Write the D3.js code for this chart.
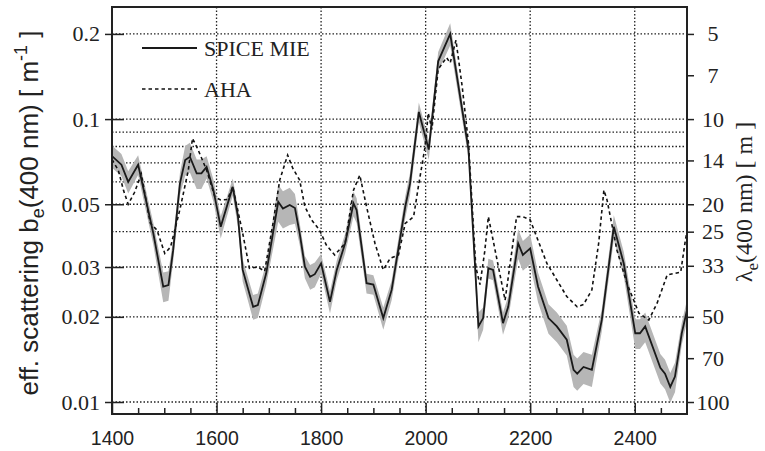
<!DOCTYPE html>
<html>
<head>
<meta charset="utf-8">
<script src="https://cdn.jsdelivr.net/npm/d3@7"></script>
<style>
  body { margin: 0; background: #fff; }
  svg { display: block; }
</style>
</head>
<body>
<svg id="chart"></svg>
<script>
// SPICE MIE effective scattering (solid, with grey uncertainty band)
const spiceX = [1400,1418,1431,1450,1479,1498,1508,1517,1530,1540,1549,1562,1571,1581,1594,1608,1631,1641,1650,1670,
  1679,1695,1718,1727,1740,1750,1759,1769,1779,1788,1800,1817,1830,1846,1862,1868,1887,1900,1919,1935,
  1961,1970,1987,2006,2024,2047,2082,2101,2110,2120,2129,2148,2158,2177,2186,2200,2215,2235,2251,2270,
  2283,2290,2302,2318,2337,2360,2379,2401,2410,2420,2449,2458,2468,2477,2490,2500]
const spiceB = [0.074,0.069,0.060,0.069,0.0395,0.0256,0.0259,0.0344,0.0593,0.0717,0.0736,0.0643,0.0643,0.0678,0.0561,0.0416,0.0576,0.0452,0.0293,0.0217,
  0.0220,0.0285,0.0510,0.0483,0.0497,0.0485,0.0395,0.0301,0.0277,0.0283,0.0309,0.0226,0.0293,0.0364,0.0504,0.0477,0.0263,0.0260,0.0198,0.0249,
  0.0490,0.0590,0.106,0.078,0.160,0.200,0.078,0.0185,0.0198,0.0297,0.0293,0.0190,0.0217,0.0364,0.0331,0.0349,0.0256,0.0198,0.0185,0.0166,
  0.0130,0.0126,0.0133,0.0130,0.0195,0.0416,0.0309,0.0175,0.0175,0.0185,0.0132,0.0126,0.0113,0.0123,0.0175,0.0211]
// relative half-width of the grey band
const spiceErr = [0.09,0.09,0.09,0.08,0.09,0.12,0.12,0.09,0.09,0.12,0.12,0.12,0.12,0.09,0.09,0.09,0.07,0.08,0.09,0.10,
  0.10,0.09,0.15,0.15,0.15,0.12,0.09,0.09,0.10,0.10,0.08,0.09,0.08,0.08,0.10,0.10,0.08,0.08,0.09,0.08,
  0.09,0.09,0.08,0.08,0.08,0.09,0.07,0.12,0.09,0.08,0.08,0.09,0.09,0.12,0.12,0.12,0.12,0.12,0.12,0.12,
  0.13,0.13,0.13,0.13,0.09,0.10,0.10,0.12,0.12,0.12,0.12,0.12,0.12,0.12,0.09,0.09]

// AHA (dashed)
const ahaX = [1400,1412,1422,1431,1443,1456,1473,1486,1501,1512,1530,1546,1554,1565,1581,1597,1608,1621,1631,1650,
  1663,1679,1692,1708,1721,1736,1746,1759,1769,1782,1797,1810,1826,1846,1862,1874,1887,1903,1919,1932,
  1948,1961,1977,1986,1999,2005,2012,2024,2040,2047,2058,2070,2082,2096,2104,2113,2120,2127,2152,2174,
  2186,2200,2232,2251,2270,2290,2302,2318,2331,2341,2347,2366,2385,2408,2427,2443,2462,2488,2497,2500]
const ahaB = [0.072,0.066,0.056,0.050,0.055,0.064,0.043,0.0405,0.0335,0.0353,0.048,0.066,0.0855,0.0777,0.066,0.053,0.0518,0.052,0.0576,0.0395,
  0.0297,0.030,0.029,0.0428,0.061,0.0746,0.0669,0.0609,0.049,0.044,0.0405,0.0359,0.0331,0.0364,0.0561,0.0634,0.049,0.0364,0.0293,0.0322,
  0.0331,0.0428,0.0452,0.0576,0.080,0.105,0.092,0.150,0.165,0.158,0.190,0.130,0.082,0.030,0.026,0.034,0.0452,0.039,0.0229,0.0452,
  0.0452,0.044,0.0309,0.027,0.0236,0.0217,0.0221,0.0249,0.0364,0.0561,0.0518,0.0344,0.0263,0.0206,0.0195,0.0224,0.0281,0.0288,0.0374,0.040]

const leftTicks = [0.2, 0.1, 0.05, 0.03, 0.02, 0.01]
const rightTicks = [5, 7, 10, 14, 20, 25, 33, 50, 70, 100]
const gridY = [0.2, 0.1, 0.09, 0.08, 0.07, 0.06, 0.05, 0.04, 0.03, 0.02, 0.01]
const xMajor = [1400, 1600, 1800, 2000, 2200, 2400]
const gridX = [1600, 1800, 2000, 2200, 2400]

const width = 765, height = 451
const plot = { left: 112, right: 687, top: 7, bottom: 414 }

const svg = d3.select('#chart')
  .attr('width', width)
  .attr('height', height)

const x = d3.scaleLinear().domain([1400, 2500]).range([plot.left, plot.right])
const y = d3.scaleLog().domain([0.00907, 0.249]).range([plot.bottom, plot.top])

const serif = '"Liberation Serif", "DejaVu Serif", serif'
const sans = '"Liberation Sans", Arial, sans-serif'

// grid
svg.append('g').selectAll('line').data(gridY).enter().append('line')
  .attr('x1', plot.left).attr('x2', plot.right)
  .attr('y1', d => y(d)).attr('y2', d => y(d))
  .attr('stroke', '#222').attr('stroke-width', 1.3).attr('stroke-dasharray', '1.5,2')
svg.append('g').selectAll('line').data(gridX).enter().append('line')
  .attr('x1', d => x(d)).attr('x2', d => x(d))
  .attr('y1', plot.top).attr('y2', plot.bottom)
  .attr('stroke', '#222').attr('stroke-width', 1.3).attr('stroke-dasharray', '1.5,2')

const spice = spiceX.map((v, i) => ({ x: v, b: spiceB[i], e: spiceErr[i] }))
const aha = ahaX.map((v, i) => ({ x: v, b: ahaB[i] }))

svg.append('clipPath').attr('id', 'clip').append('rect')
  .attr('x', plot.left).attr('y', plot.top)
  .attr('width', plot.right - plot.left).attr('height', plot.bottom - plot.top)

const g = svg.append('g').attr('clip-path', 'url(#clip)')

// uncertainty band
g.append('path')
  .datum(spice)
  .attr('fill', '#b6b6b6')
  .attr('d', d3.area()
    .x(d => x(d.x))
    .y0(d => y(d.b * (1 - d.e)))
    .y1(d => y(d.b * (1 + d.e))))

g.append('path')
  .datum(aha)
  .attr('fill', 'none')
  .attr('stroke', '#111')
  .attr('stroke-width', 1.6)
  .attr('stroke-dasharray', '3.5,3')
  .attr('d', d3.line().x(d => x(d.x)).y(d => y(d.b)))

g.append('path')
  .datum(spice)
  .attr('fill', 'none')
  .attr('stroke', '#1a1a1a')
  .attr('stroke-width', 1.8)
  .attr('d', d3.line().x(d => x(d.x)).y(d => y(d.b)))

// frame
svg.append('rect')
  .attr('x', plot.left).attr('y', plot.top)
  .attr('width', plot.right - plot.left).attr('height', plot.bottom - plot.top)
  .attr('fill', 'none').attr('stroke', '#222').attr('stroke-width', 2)

// left axis
svg.append('g')
  .attr('transform', 'translate(' + plot.left + ',0)')
  .call(d3.axisLeft(y).tickValues(leftTicks).tickFormat(d3.format('')).tickSize(7).tickPadding(5))
  .call(a => a.select('.domain').remove())
  .call(a => a.selectAll('line').attr('x2', -7).attr('x1', 12).attr('stroke', '#222').attr('stroke-width', 1.5))
  .call(a => a.selectAll('text').attr('font-family', serif).attr('font-size', 22).attr('fill', '#222').attr('x', -12))

// right axis (lambda = 1/b)
svg.append('g')
  .attr('transform', 'translate(' + plot.right + ',0)')
  .call(d3.axisRight(y).tickValues(rightTicks.map(l => 1 / l)).tickFormat(d => String(Math.round(1 / d))).tickSize(7))
  .call(a => a.select('.domain').remove())
  .call(a => a.selectAll('line').attr('stroke', '#222').attr('stroke-width', 1.5))
  .call(a => a.selectAll('text').attr('font-family', serif).attr('font-size', 22).attr('fill', '#222')
    .attr('x', 26).attr('text-anchor', 'middle'))

// bottom axis
svg.append('g')
  .attr('transform', 'translate(0,' + plot.bottom + ')')
  .call(d3.axisBottom(x).tickValues(d3.range(1450, 2500, 50).filter(v => v % 200 !== 0)).tickFormat('').tickSize(-6))
  .call(a => a.select('.domain').remove())
  .call(a => a.selectAll('line').attr('stroke', '#222').attr('stroke-width', 1.5))
svg.append('g')
  .attr('transform', 'translate(0,' + plot.bottom + ')')
  .call(d3.axisBottom(x).tickValues(xMajor).tickFormat(d3.format('d')).tickSize(-11).tickPadding(20))
  .call(a => a.select('.domain').remove())
  .call(a => a.selectAll('line').attr('stroke', '#222').attr('stroke-width', 1.5))
  .call(a => a.selectAll('text').attr('font-family', sans).attr('font-size', 19.5).attr('fill', '#222')
    .attr('y', 31).attr('dy', 0))

// axis titles
const lt = svg.append('text')
  .attr('transform', 'translate(38,' + 213 + ') rotate(-90)')
  .attr('text-anchor', 'middle')
  .attr('font-family', sans).attr('font-size', 26).attr('fill', '#222')
lt.append('tspan').text('eff. scattering b')
lt.append('tspan').attr('font-size', 18).attr('dy', 6).text('e')
lt.append('tspan').attr('dy', -6).text('(400 nm) [ m')
lt.append('tspan').attr('font-size', 18).attr('dy', -11).text('-1')
lt.append('tspan').attr('dy', 11).text(' ]')

const rt = svg.append('text')
  .attr('transform', 'translate(752,' + 202 + ') rotate(-90)')
  .attr('text-anchor', 'middle')
  .attr('font-family', serif).attr('font-size', 24).attr('fill', '#222')
rt.append('tspan').text('λ')
rt.append('tspan').attr('font-size', 17).attr('dy', 6).text('e')
rt.append('tspan').attr('dy', -6).text('(400 nm) [ m ]')

// legend
const legend = svg.append('g')
legend.append('line').attr('x1', 142).attr('x2', 197).attr('y1', 48).attr('y2', 48)
  .attr('stroke', '#1a1a1a').attr('stroke-width', 1.8)
legend.append('text').attr('x', 204).attr('y', 56).text('SPICE MIE')
  .attr('font-family', serif).attr('font-size', 22).attr('fill', '#222')
legend.append('line').attr('x1', 142).attr('x2', 197).attr('y1', 89).attr('y2', 89)
  .attr('stroke', '#111').attr('stroke-width', 1.6).attr('stroke-dasharray', '3.5,3')
legend.append('text').attr('x', 204).attr('y', 97).text('AHA')
  .attr('font-family', serif).attr('font-size', 22).attr('fill', '#222')
</script>
</body>
</html>
